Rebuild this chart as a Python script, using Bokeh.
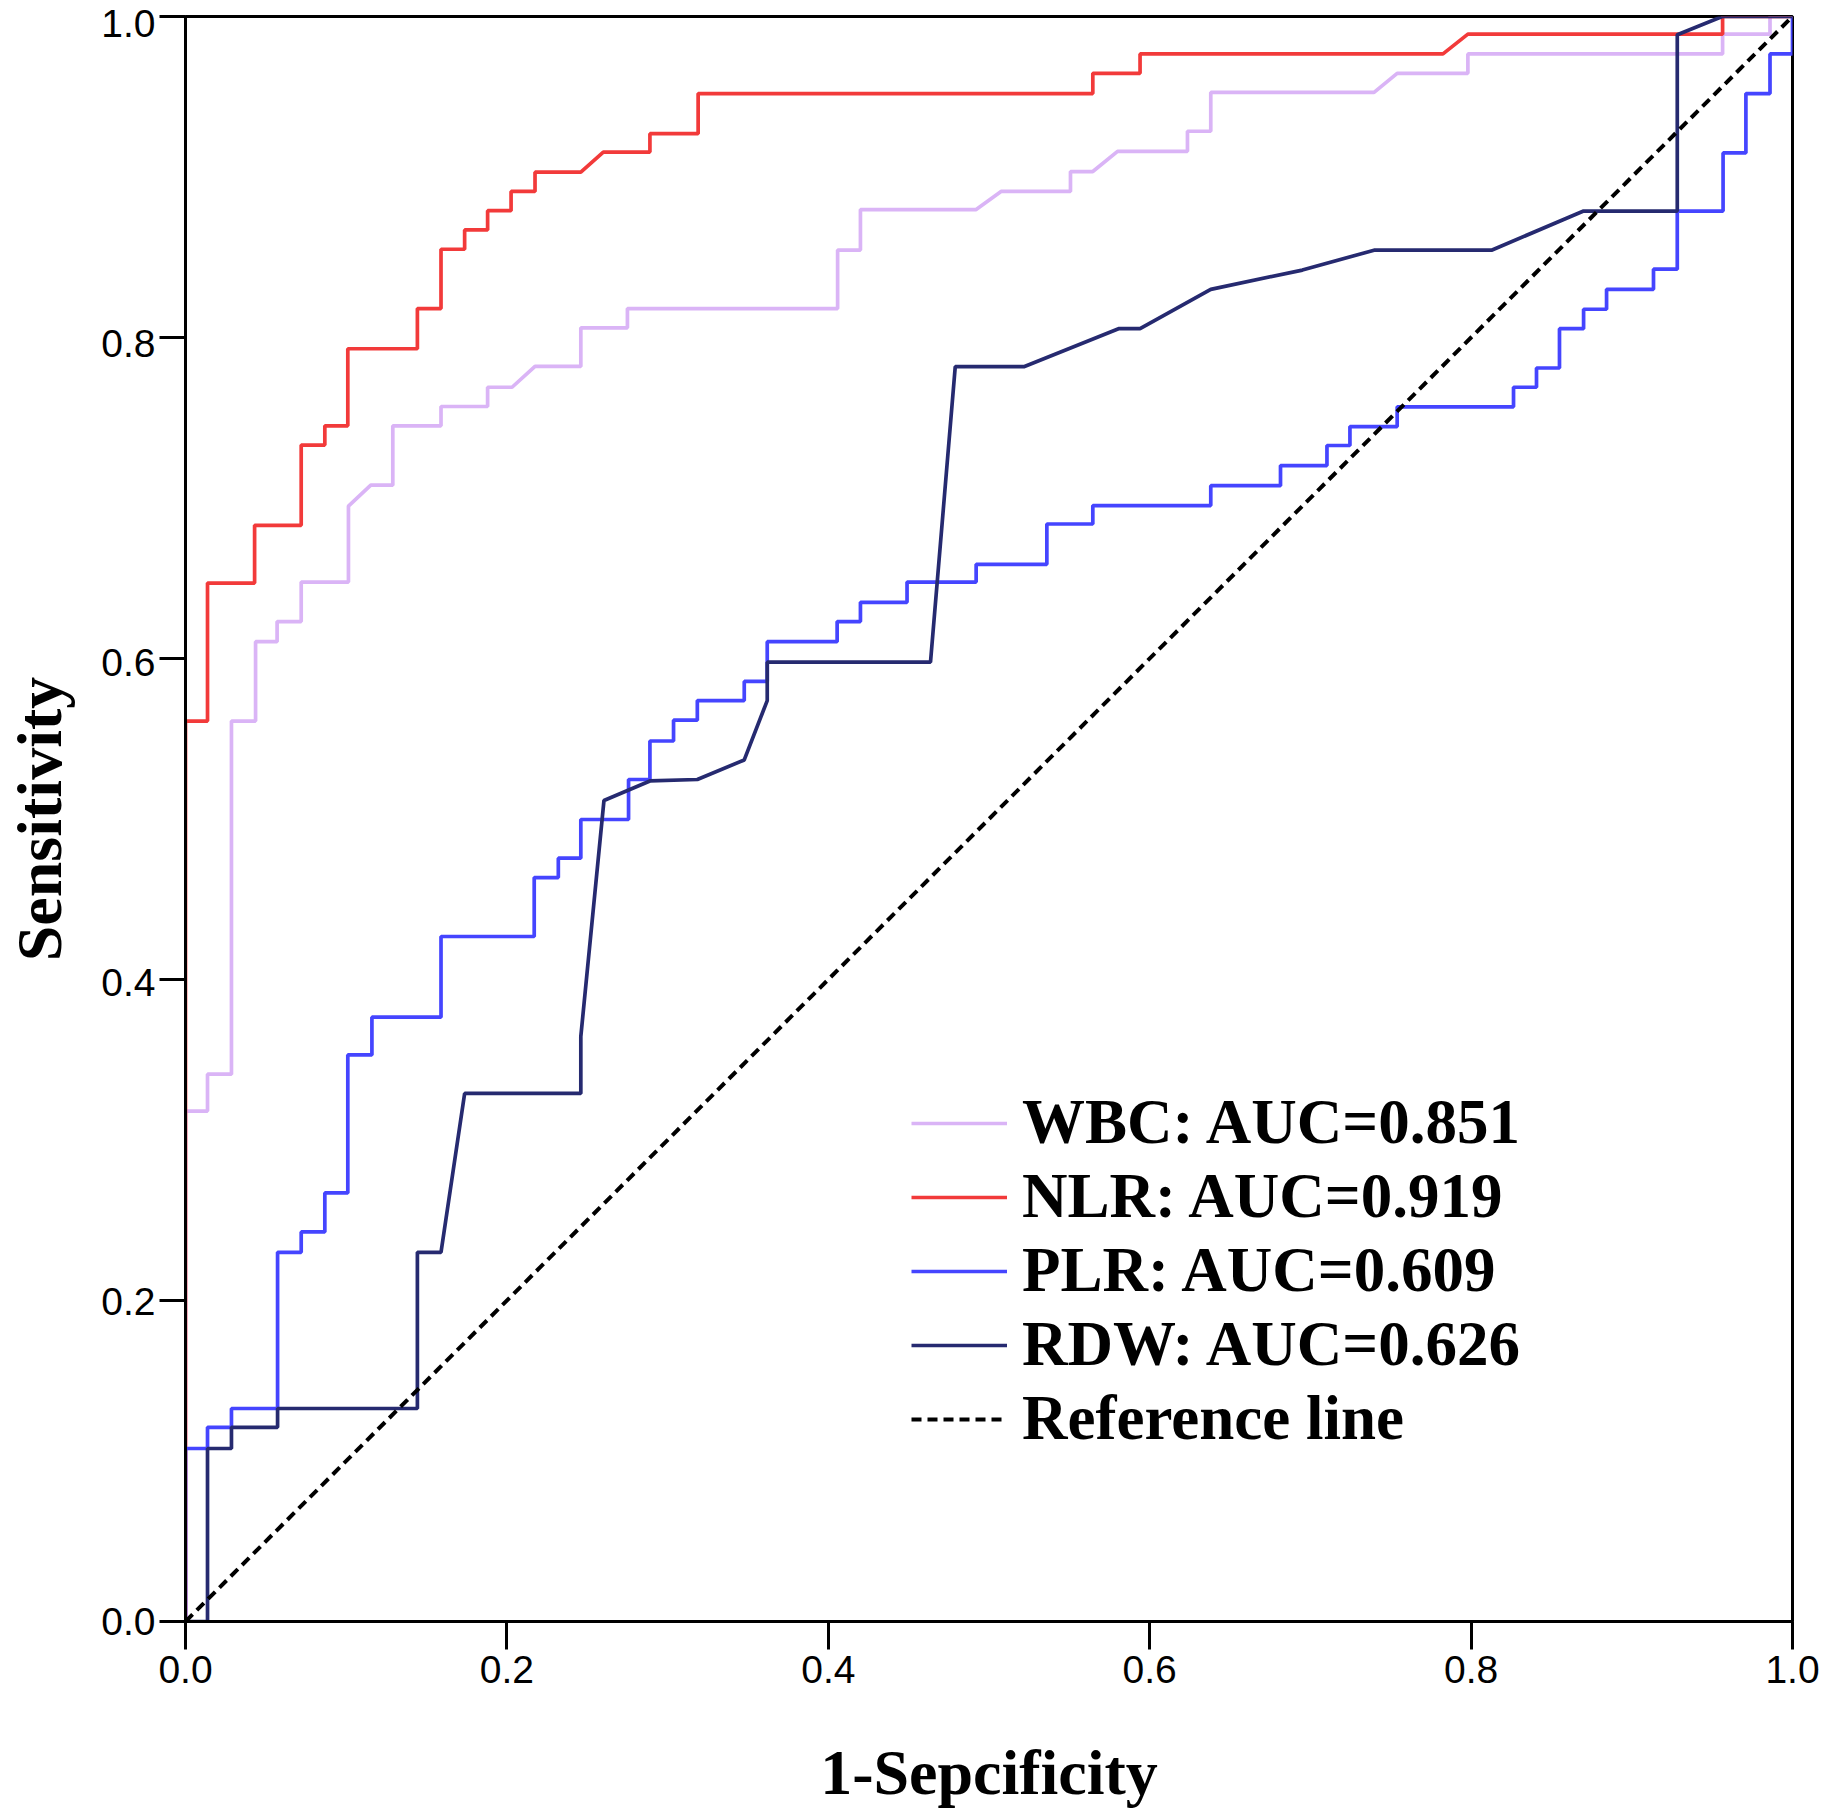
from bokeh.plotting import figure
from bokeh.models import (Range1d, FixedTicker, PrintfTickFormatter, Legend, LegendItem,
                          LinearAxis)
from bokeh.embed import file_html
from bokeh.resources import INLINE

# ---- data ----
wbc_fpr = [0, 0, 0.0137, 0.0137, 0.0286, 0.0286, 0.0436, 0.0436, 0.057, 0.057, 0.072, 0.072,
           0.1014, 0.1014, 0.1153, 0.129, 0.129, 0.159, 0.159, 0.188, 0.188, 0.2032, 0.2175,
           0.246, 0.246, 0.275, 0.275, 0.4058, 0.4058, 0.42, 0.42, 0.492, 0.5075, 0.5507,
           0.5507, 0.5646, 0.580, 0.6235, 0.6235, 0.638, 0.638, 0.7396, 0.754, 0.798, 0.798,
           0.9565, 0.9565, 0.986, 0.986, 1.0]
wbc_tpr = [0, 0.318, 0.318, 0.341, 0.341, 0.561, 0.561, 0.6105, 0.6105, 0.623, 0.623, 0.6476,
           0.6476, 0.695, 0.708, 0.708, 0.745, 0.745, 0.757, 0.757, 0.769, 0.769, 0.782,
           0.782, 0.806, 0.806, 0.818, 0.818, 0.8545, 0.8545, 0.8797, 0.8797, 0.891, 0.891,
           0.9034, 0.9034, 0.916, 0.916, 0.9285, 0.9285, 0.9527, 0.9527, 0.9646, 0.9646, 0.9767,
           0.9767, 0.989, 0.989, 1.0, 1.0]

nlr_fpr = [0, 0, 0.0137, 0.0137, 0.043, 0.043, 0.072, 0.072, 0.0867, 0.0867, 0.101, 0.101,
           0.1443, 0.1443, 0.159, 0.159, 0.1737, 0.1737, 0.188, 0.188, 0.2026, 0.2026, 0.2175,
           0.2175, 0.246, 0.260, 0.289, 0.289, 0.319, 0.319, 0.5646, 0.5646, 0.594, 0.594,
           0.7825, 0.798, 0.9565, 0.9565, 1.0]
nlr_tpr = [0, 0.561, 0.561, 0.647, 0.647, 0.683, 0.683, 0.733, 0.733, 0.745, 0.745, 0.793,
           0.793, 0.818, 0.818, 0.855, 0.855, 0.867, 0.867, 0.879, 0.879, 0.891, 0.891,
           0.903, 0.903, 0.9155, 0.9155, 0.927, 0.927, 0.952, 0.952, 0.9646, 0.9646, 0.9767,
           0.9767, 0.989, 0.989, 1.0, 1.0]

plr_fpr = [0, 0, 0.0137, 0.0137, 0.0286, 0.0286, 0.0573, 0.0573, 0.072, 0.072, 0.0867, 0.0867,
           0.101, 0.101, 0.116, 0.116, 0.159, 0.159, 0.217, 0.217, 0.232, 0.232, 0.246, 0.246,
           0.2757, 0.2757, 0.289, 0.289, 0.3037, 0.3037, 0.3185, 0.3185, 0.3477, 0.3477, 0.362,
           0.362, 0.4055, 0.4055, 0.42, 0.42, 0.449, 0.449, 0.492, 0.492, 0.536, 0.536, 0.5646,
           0.5646, 0.638, 0.638, 0.6814, 0.6814, 0.7103, 0.7103, 0.7246, 0.7246, 0.754, 0.754,
           0.8264, 0.8264, 0.8407, 0.8407, 0.855, 0.855, 0.87, 0.87, 0.8843, 0.8843, 0.9135,
           0.9135, 0.9283, 0.9283, 0.9568, 0.9568, 0.971, 0.971, 0.986, 0.986, 1.0, 1.0]
plr_tpr = [0, 0.1078, 0.1078, 0.121, 0.121, 0.1327, 0.1327, 0.23, 0.23, 0.2427, 0.2427, 0.267,
           0.267, 0.353, 0.353, 0.3765, 0.3765, 0.4268, 0.4268, 0.4635, 0.4635, 0.4756, 0.4756,
           0.4997, 0.4997, 0.5246, 0.5246, 0.5486, 0.5486, 0.5616, 0.5616, 0.5738, 0.5738,
           0.5857, 0.5857, 0.6105, 0.6105, 0.623, 0.623, 0.635, 0.635, 0.6476, 0.6476, 0.6587,
           0.6587, 0.6838, 0.6838, 0.6953, 0.6953, 0.7077, 0.7077, 0.7202, 0.7202, 0.7327,
           0.7327, 0.7445, 0.7445, 0.7568, 0.7568, 0.769, 0.769, 0.781, 0.781, 0.8055, 0.8055,
           0.8176, 0.8176, 0.830, 0.830, 0.8426, 0.8426, 0.8788, 0.8788, 0.915, 0.915, 0.952,
           0.952, 0.9767, 0.9767, 1.0]

rdw_fpr = [0, 0.0137, 0.0137, 0.0286, 0.0286, 0.0573, 0.0573, 0.1443, 0.1443, 0.159, 0.1737,
           0.246, 0.246, 0.2604, 0.289, 0.3185, 0.3477, 0.362, 0.362, 0.4636, 0.479, 0.5217,
           0.5806, 0.594, 0.638, 0.695, 0.7396, 0.8127, 0.87, 0.9283, 0.9283, 0.9563, 1.0]
rdw_tpr = [0, 0, 0.1078, 0.1078, 0.121, 0.121, 0.1327, 0.1327, 0.23, 0.23, 0.329, 0.329,
           0.3645, 0.5115, 0.5237, 0.5246, 0.5368, 0.5738, 0.5977, 0.5977, 0.7818, 0.7818,
           0.8055, 0.8055, 0.830, 0.842, 0.8544, 0.8544, 0.8788, 0.8788, 0.9886, 1.0, 1.0]

ref_x = [0.0, 1.0]
ref_y = [0.0, 1.0]

series_labels = ["WBC: AUC=0.851", "NLR: AUC=0.919", "PLR: AUC=0.609", "RDW: AUC=0.626", "Reference line"]
tick_values = [0.0, 0.2, 0.4, 0.6, 0.8, 1.0]
x_title = "1-Sepcificity"
y_title = "Sensitivity"

FRAME_H = 1605
LABEL_DROP_PX = 7  # y tick labels sit slightly below their ticks in the reference

# ---- figure ----
p = figure(frame_width=1607, frame_height=FRAME_H,
           x_range=Range1d(0, 1), y_range=Range1d(0, 1),
           output_backend="svg", toolbar_location=None,
           min_border_left=185, min_border_right=33, min_border_top=16, min_border_bottom=187)
p.extra_y_ranges = {"labels": Range1d(0, 1.0 / (1.0 - LABEL_DROP_PX / FRAME_H))}

p.background_fill_color = "white"
p.border_fill_color = "white"
p.grid.visible = False
p.outline_line_color = "black"
p.outline_line_width = 3

for ax in (p.xaxis[0], p.yaxis[0]):
    ax.ticker = FixedTicker(ticks=tick_values)
    ax.formatter = PrintfTickFormatter(format="%.1f")
    ax.axis_line_width = 3
    ax.axis_line_color = "black"
    ax.major_tick_line_width = 3
    ax.major_tick_line_color = "black"
    ax.major_tick_in = 0
    ax.minor_tick_line_color = None
    ax.major_label_text_font = "Liberation Sans"
    ax.major_label_text_font_size = "39px"
    ax.major_label_text_color = "black"

p.xaxis.major_tick_out = 28
p.xaxis.major_label_standoff = 6
p.xaxis.axis_label = x_title
p.xaxis.axis_label_text_font = "Liberation Serif"
p.xaxis.axis_label_text_font_style = "bold"
p.xaxis.axis_label_text_font_size = "64px"
p.xaxis.axis_label_text_color = "black"
p.xaxis.axis_label_standoff = 51

# main y axis: line and ticks only
p.yaxis.major_tick_out = 26
p.yaxis.major_label_standoff = 0
p.yaxis.major_label_overrides = {v: "" for v in tick_values}

# second (label-only) y axis, placed just outside the tick marks
ylab_axis = LinearAxis(y_range_name="labels",
                       ticker=FixedTicker(ticks=tick_values),
                       formatter=PrintfTickFormatter(format="%.1f"),
                       axis_line_color=None, major_tick_line_color=None,
                       minor_tick_line_color=None, major_tick_in=0, major_tick_out=0,
                       major_label_standoff=4,
                       major_label_text_font="Liberation Sans",
                       major_label_text_font_size="39px",
                       major_label_text_color="black",
                       axis_label=y_title,
                       axis_label_text_font="Liberation Serif",
                       axis_label_text_font_style="bold",
                       axis_label_text_font_size="64px",
                       axis_label_text_color="black",
                       axis_label_standoff=23)
p.add_layout(ylab_axis, "left")

lw = 3.7
r_wbc = p.line(wbc_fpr, wbc_tpr, line_color="#dab4f6", line_width=lw)
r_nlr = p.line(nlr_fpr, nlr_tpr, line_color="#f23a3a", line_width=lw)
r_plr = p.line(plr_fpr, plr_tpr, line_color="#4545ff", line_width=lw)
r_rdw = p.line(rdw_fpr, rdw_tpr, line_color="#262a70", line_width=lw)
r_ref = p.line(ref_x, ref_y, line_color="black", line_width=4, line_dash="10 6")

legend = Legend(items=[LegendItem(label=lab, renderers=[r]) for lab, r in
                       zip(series_labels, [r_wbc, r_nlr, r_plr, r_rdw, r_ref])],
                location=(726, 166))
legend.border_line_color = None
legend.background_fill_alpha = 0
legend.padding = 0
legend.margin = 0
legend.spacing = 1
legend.glyph_width = 96
legend.glyph_height = 70
legend.label_height = 70
legend.label_standoff = 15
legend.label_text_font = "Liberation Serif"
legend.label_text_font_style = "bold"
legend.label_text_font_size = "63px"
legend.label_text_color = "black"
p.add_layout(legend, "center")

open("out.html", "w").write(file_html(p, INLINE))
